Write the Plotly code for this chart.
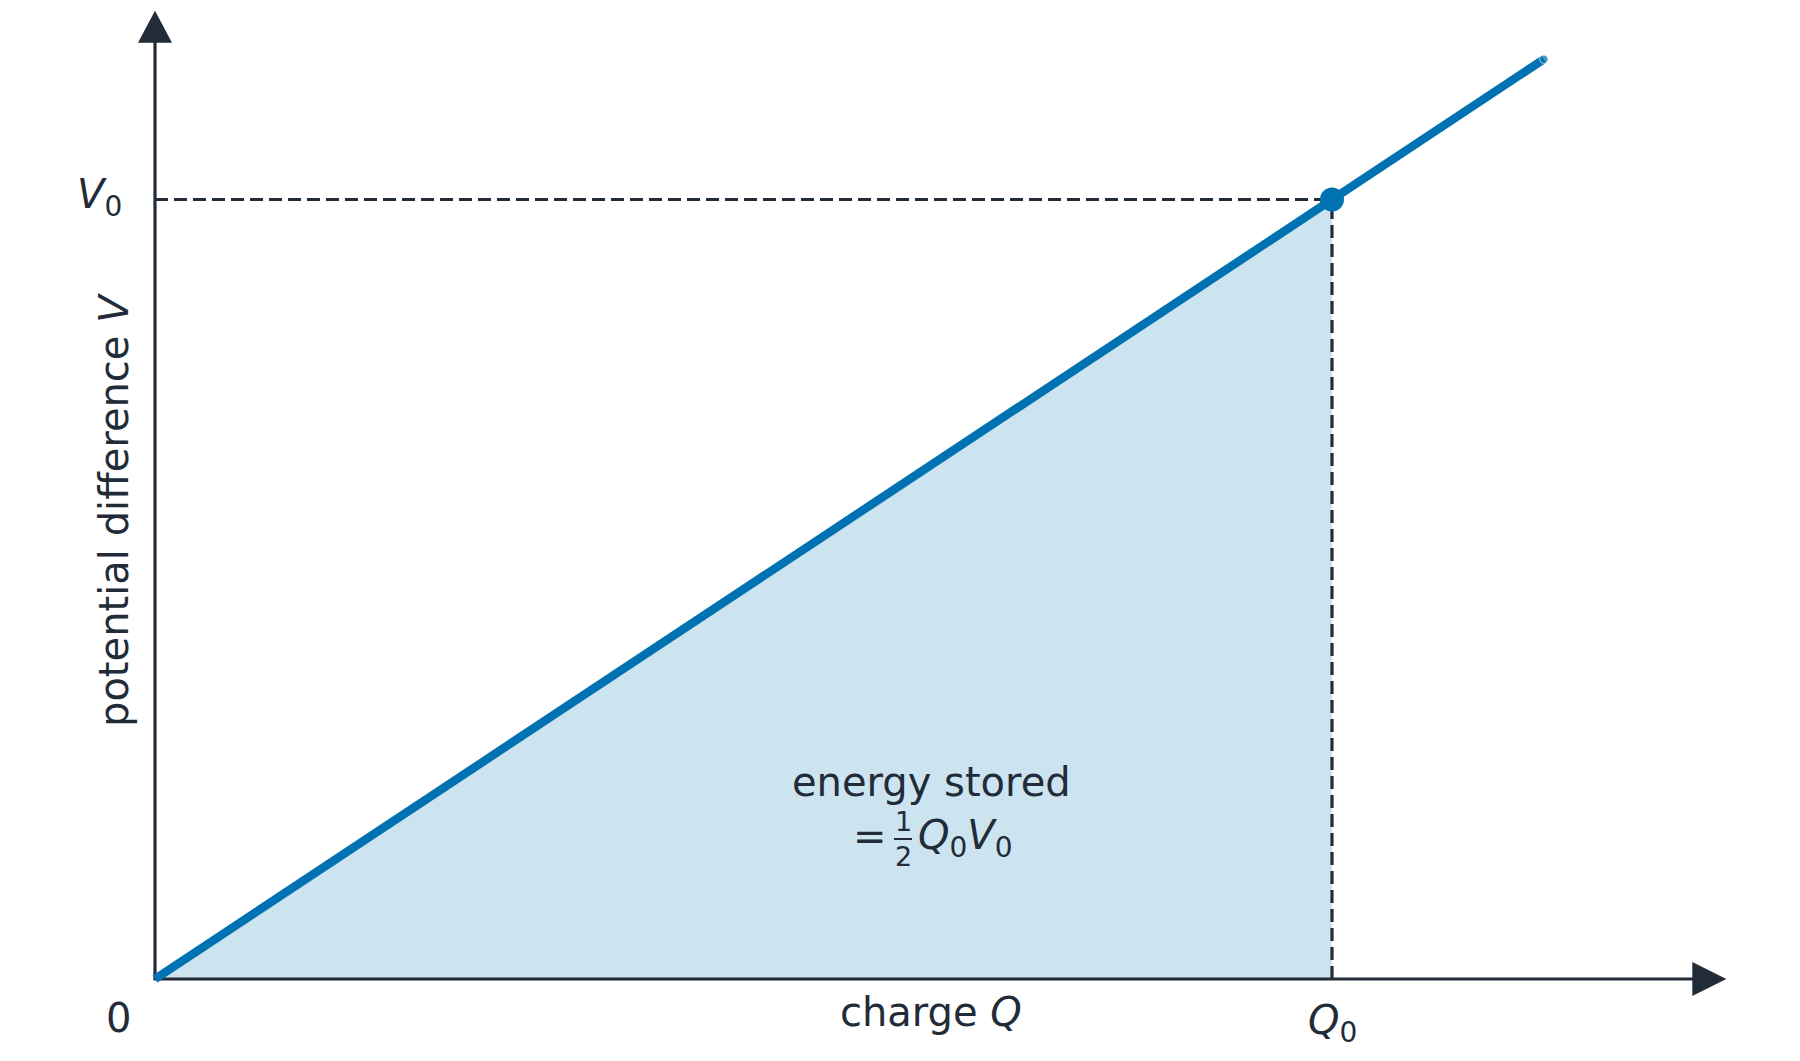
import plotly.graph_objects as go

# ---------------- data ----------------
Q0 = 1.0                      # charge at the marked point
V0 = 1.0                      # potential difference at the marked point
Q_LINE = [0.0, 1.18]          # V-Q line (straight through origin)
V_LINE = [0.0, 1.18]
AREA_Q = [0.0, Q0, Q0]        # shaded triangle (energy stored)
AREA_V = [0.0, V0, 0.0]
X_AXIS_END = 1.335            # axis arrow tips (data units)
Y_AXIS_END = 1.242

X_TITLE = "charge <i>Q</i>"
Y_TITLE = "potential difference <i>V</i>"
LABEL_ORIGIN = "0"
LABEL_Q0 = "<i>Q</i><sub>0</sub>"
LABEL_V0 = "<i>V</i><sub>0</sub>"
ENERGY_TEXT = "energy stored"
ENERGY_PRODUCT = "<i>Q</i><sub>0</sub><i>V</i><sub>0</sub>"

# ---------------- styling / layout ----------------
W, H = 1800, 1061
OX, OY = 155.0, 979.0         # pixel position of origin
SX, SY = 1177.0, 779.5        # pixels per data unit
DARK = "#222b38"
BLUE = "#0072B2"
FILL = "rgba(0,114,178,0.2)"
FONT = "DejaVu Sans"
FS = 40


def px(xp):
    return (xp - OX) / SX


def py(yp):
    return (OY - yp) / SY


fig = go.Figure()

fig.add_trace(go.Scatter(x=AREA_Q, y=AREA_V, mode="lines", fill="toself",
                         fillcolor=FILL, line=dict(width=0), hoverinfo="skip"))
fig.add_trace(go.Scatter(x=[0, Q0], y=[V0, V0], mode="lines",
                         line=dict(color=DARK, width=3.2, dash="13px,6px")))
fig.add_trace(go.Scatter(x=[Q0, Q0], y=[0, V0], mode="lines",
                         line=dict(color=DARK, width=3.2, dash="13px,6px")))
# axes
fig.add_trace(go.Scatter(x=[0, 0, X_AXIS_END - 20 / SX], y=[Y_AXIS_END - 20 / SY, 0, 0],
                         mode="lines", line=dict(color=DARK, width=3.2)))
# V-Q line
fig.add_trace(go.Scatter(x=Q_LINE, y=V_LINE, mode="lines+markers",
                         line=dict(color=BLUE, width=8.5),
                         marker=dict(color=BLUE, size=[0, 8.5])))
fig.add_trace(go.Scatter(x=[Q0], y=[V0], mode="markers",
                         marker=dict(color=BLUE, size=24)))

shapes = [
    dict(type="path", xref="x", yref="y", xsizemode="pixel", ysizemode="pixel",
         xanchor=X_AXIS_END, yanchor=0, path="M0,0 L-34,17 L-34,-17 Z",
         fillcolor=DARK, line=dict(width=0)),
    dict(type="path", xref="x", yref="y", xsizemode="pixel", ysizemode="pixel",
         xanchor=0, yanchor=Y_AXIS_END, path="M0,0 L-17,-32 L17,-32 Z",
         fillcolor=DARK, line=dict(width=0)),
    # fraction bar of 1/2
    dict(type="line", xref="x", yref="y", x0=px(894), x1=px(912), y0=py(839), y1=py(839),
         line=dict(color=DARK, width=2)),
]


def ann(text, x, y, size=FS, xanchor="center", yanchor="middle", angle=0):
    return dict(text=text, x=x, y=y, xref="x", yref="y", showarrow=False,
                xanchor=xanchor, yanchor=yanchor, textangle=angle,
                font=dict(family=FONT, size=size, color=DARK))


annotations = [
    ann(LABEL_ORIGIN, px(118), py(1018)),
    ann(LABEL_V0, px(124), py(197), xanchor="right"),
    ann(LABEL_Q0, Q0, py(1023)),
    ann(X_TITLE, px(931), py(1012)),
    ann(Y_TITLE, px(114), py(510), angle=-90),
    ann(ENERGY_TEXT, px(931), py(782)),
    ann("=", px(870), py(836)),
    ann("1", px(903), py(821), size=27),
    ann("2", px(903), py(856), size=27),
    ann(ENERGY_PRODUCT, px(916), py(838), xanchor="left"),
]

fig.update_layout(
    width=W, height=H,
    margin=dict(l=0, r=0, t=0, b=0),
    paper_bgcolor="white", plot_bgcolor="white",
    showlegend=False,
    xaxis=dict(range=[px(0), px(W)], visible=False, fixedrange=True),
    yaxis=dict(range=[py(H), py(0)], visible=False, fixedrange=True),
    shapes=shapes,
    annotations=annotations,
    font=dict(family=FONT, color=DARK),
)

fig.write_html("out.html")
